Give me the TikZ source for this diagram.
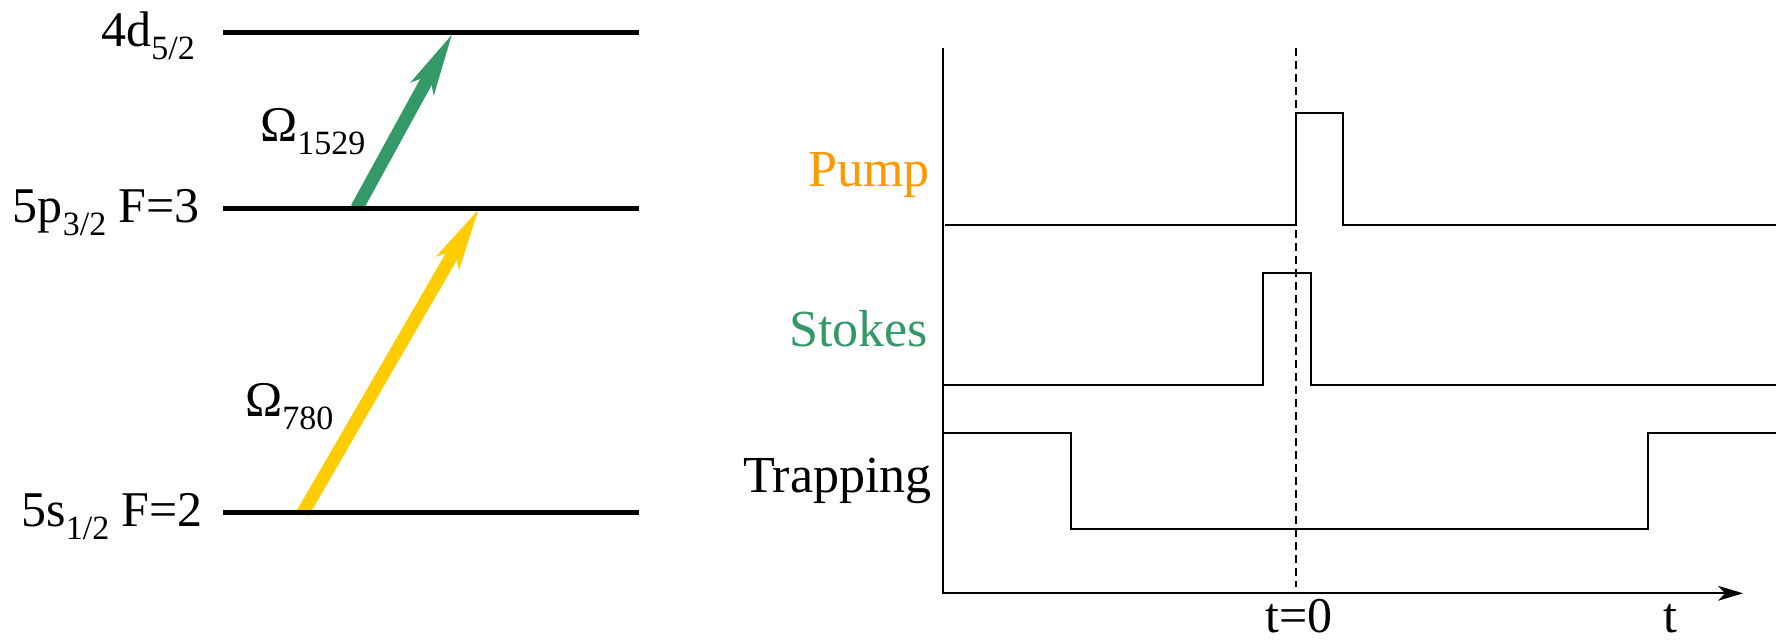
\documentclass[tikz,border=0pt]{standalone}
\usepackage{fontspec}
\setmainfont{Liberation Serif}
\usetikzlibrary{arrows.meta}
\definecolor{stokesgreen}{RGB}{51,153,102}
\definecolor{pumporange}{RGB}{255,153,0}
\definecolor{probeyellow}{RGB}{255,204,0}
\newcommand\bigtext{\fontsize{50}{50}\selectfont}
\newcommand\sigtext{\fontsize{52}{52}\selectfont}
\newcommand\lowsub[1]{\raisebox{-13pt}{\fontsize{34}{34}\selectfont #1}}

\begin{document}
\begin{tikzpicture}[x=1pt,y=-1pt,
  level/.style={line width=5pt},
  lbl/.style={inner sep=0pt,font=\bigtext},
  siglbl/.style={inner sep=0pt,font=\sigtext,anchor=base east},
  beam/.style={line width=13pt,
    -{Stealth[length=62pt,width=27pt,inset=16pt,line width=0pt]}},
  trace/.style={line width=2pt,line join=miter},
  marker/.style={line width=1.8pt,dash pattern=on 8pt off 5pt},
  ]
\useasboundingbox (0,0) rectangle (1782,644);

% ---------- level scheme ----------
\coordinate (dL) at (223,32.7);  \coordinate (dR) at (639,32.7);
\coordinate (pL) at (223,208.3); \coordinate (pR) at (639,208.3);
\coordinate (sL) at (223,512.7); \coordinate (sR) at (639,512.7);

% laser couplings
\coordinate (yS) at (303,512.7);   \coordinate (yT) at (478.3,210);
\coordinate (gS) at (356.7,208.3); \coordinate (gT) at (451.7,35);
\draw[beam,probeyellow] (yS) -- (yT);
\draw[beam,stokesgreen] (gS) -- (gT);

\draw[level] (dL) -- (dR);
\draw[level] (pL) -- (pR);
\draw[level] (sL) -- (sR);

\node[lbl,anchor=base east] (l4d) at (195,46.7) {4d\lowsub{5/2}};
\node[lbl,anchor=base east] (l5p) at (200,223) {5p\lowsub{3/2} F=3};
\node[lbl,anchor=base east] (l5s) at (203,526.7) {5s\lowsub{1/2} F=2};
\node[lbl,anchor=base west] (om1) at (260,141.7) {Ω\lowsub{1529}};
\node[lbl,anchor=base west] (om2) at (245,416.7) {Ω\lowsub{780}};

% ---------- timing sequence ----------
\coordinate (axTop) at (943.3,48.3);
\coordinate (org)   at (943.3,593.3);
\coordinate (axEnd) at (1743,593.3);
\draw[trace,-{Stealth[length=25pt,width=15pt,inset=7pt,line width=0pt]}]
  (axTop) -- (org) -- (axEnd);

\coordinate (tzTop) at (1295.7,48);
\coordinate (tzBot) at (1295.7,587);
\draw[marker] (tzTop) -- (tzBot);

% pump pulse
\coordinate (pumpA) at (945,224.7);
\coordinate (pumpB) at (1776,224.7);
\draw[trace] (pumpA) -- (1295.7,224.7) -- (1295.7,112.7)
  -- (1343.3,112.7) -- (1343.3,224.7) -- (pumpB);

% stokes pulse
\coordinate (stkA) at (943.3,384.5);
\coordinate (stkB) at (1776,384.5);
\draw[trace] (stkA) -- (1263.3,384.5) -- (1263.3,273)
  -- (1311.3,273) -- (1311.3,384.5) -- (stkB);

% trapping light
\coordinate (trpA) at (943.3,432.7);
\coordinate (trpB) at (1776,432.7);
\draw[trace] (trpA) -- (1071.2,432.7) -- (1071.2,529)
  -- (1647.5,529) -- (1647.5,432.7) -- (trpB);

\node[siglbl,text=pumporange]  (pump)  at (930,186.7) {Pump};
\node[siglbl,text=stokesgreen] (stk)   at (928,346.7) {Stokes};
\node[siglbl]                  (trap)  at (932,492)   {Trapping};
\node[lbl,anchor=base] (tzero) at (1299,632)   {t=0};
\node[lbl,anchor=base] (tlab)  at (1670.5,632) {t};
\end{tikzpicture}
\end{document}
